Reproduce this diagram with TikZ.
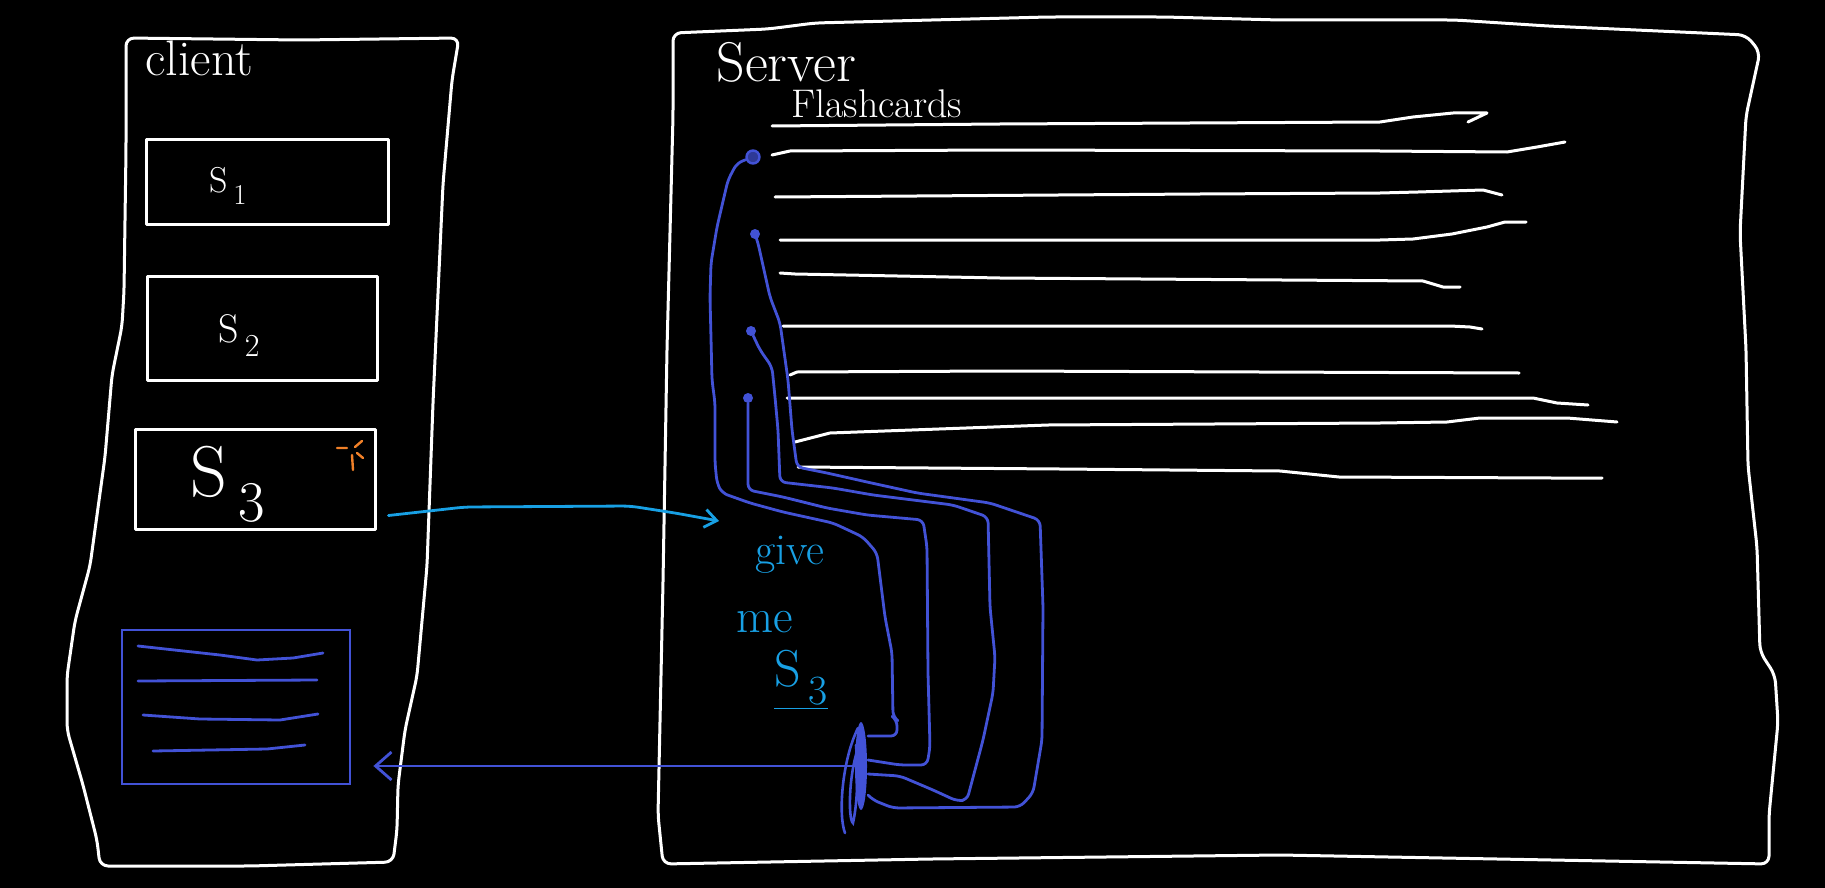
\documentclass[tikz,border=0pt]{standalone}
\usepackage{graphicx}
\usepackage{tikz}
\usetikzlibrary{arrows.meta,shapes.geometric,positioning}
\definecolor{penblue}{RGB}{66,82,214}
\definecolor{pencyan}{RGB}{24,160,228}
\definecolor{penorange}{RGB}{240,128,40}
\newcommand{\slotname}[1]{S\kern0.15em\raisebox{-0.35em}{\scalebox{0.8}{#1}}}

\begin{document}
\begin{tikzpicture}[x=0.5pt,y=-0.5pt,
  chalk/.style={draw=white, line width=1.5pt, line cap=round, line join=round},
  slot/.style={chalk, rectangle, inner sep=0pt},
  wire/.style={draw=penblue, line width=1.4pt, line cap=round, line join=round, rounded corners=3pt},
  dot/.style={circle, fill=penblue, inner sep=0pt, minimum size=5pt},
  scrawl/.style={text=white, inner sep=0pt},
  ask/.style={draw=pencyan, line width=1.4pt, line cap=round, rounded corners=4pt,
    -{Straight Barb[length=6pt,width=9pt,line width=1.4pt]}},
  fetch/.style={draw=penblue, line width=1.4pt, line cap=round,
    -{Straight Barb[length=8pt,width=14pt,line width=1.4pt]}}]

  \useasboundingbox (0,0) rectangle (1825,888);
  \fill[black] (0,0) rectangle (1825,888);

  % client
  \draw[chalk, rounded corners=4pt] (126,38) -- (126,150) -- (124,291) -- (122,326) -- (112,375)
    -- (105,457) -- (90,566) -- (75,621) -- (67,676) -- (67,730) -- (83,785) -- (97,840)
    -- (100,866) -- (250,866) -- (393,862) -- (397,830) -- (398,785) -- (405,730) -- (417,676)
    -- (427,566) -- (433,403) -- (443,184) -- (452,80) -- (459,38) -- (300,40) -- cycle;
  \node[scrawl, anchor=west, font=\fontsize{25}{27}\selectfont] (client) at (145,58) {client};

  \node[slot, minimum width=121pt, minimum height=42.5pt] (s1) at (267,182) {};
  \node[slot, minimum width=115pt, minimum height=52pt] (s2) at (262,328) {};
  \node[slot, minimum width=120pt, minimum height=50pt] (s3) at (255,479) {};
  \node[scrawl, font=\fontsize{18}{20}\selectfont] (l1) at (228,186) {\slotname{1}};
  \node[scrawl, font=\fontsize{20}{22}\selectfont] (l2) at (239,336) {\slotname{2}};
  \node[scrawl, font=\fontsize{36}{38}\selectfont] (l3) at (228,484) {\slotname{3}};
  % new mark
  \draw[penorange, line width=1.2pt, line cap=round]
    (337,448) -- (347,448) (352,455) -- (353,470) (355,447) -- (362,441) (357,453) -- (363,458);

  % fetched cards
  \node[draw=penblue, line width=1.4pt, rectangle, minimum width=114pt, minimum height=77pt,
    inner sep=0pt] (cards) at (236,707) {};
  \draw[penblue, line width=1.4pt, line cap=round]
    (138,646) -- (220,655) -- (257,660) -- (293,658) -- (323,653)
    (138,681) -- (317,680)
    (143,715) -- (200,719) -- (280,720) -- (318,714)
    (153,751) -- (267,749) -- (305,745);

  % server
  \draw[chalk, rounded corners=4pt] (673,33) -- (768,29) -- (815,23) -- (1048,17) -- (1164,17)
    -- (1280,20) -- (1455,20) -- (1548,26) -- (1746,35) -- (1760,52) -- (1746,116)
    -- (1740,233) -- (1746,349) -- (1748,466) -- (1757,547) -- (1760,652) -- (1775,675)
    -- (1778,722) -- (1769,815) -- (1769,864) -- (1280,855) -- (931,859) -- (663,864)
    -- (658,815) -- (663,582) -- (667,349) -- (673,116) -- cycle;
  \node[scrawl, anchor=west, font=\fontsize{28}{30}\selectfont] (server) at (716,62) {Server};
  \node[scrawl, anchor=west, font=\fontsize{20}{22}\selectfont] (deck) at (791,104) {Flashcards};

  % flashcards
  \draw[chalk] (772,126) -- (1000,124) -- (1380,122) -- (1413,117) -- (1453,113) -- (1487,113) -- (1468,122);
  \draw[chalk] (772,155) -- (790,151) -- (1000,150) -- (1380,151) -- (1507,152) -- (1537,147) -- (1565,142);
  \draw[chalk] (775,197) -- (1200,194) -- (1380,193) -- (1418,192) -- (1483,190) -- (1502,195);
  \draw[chalk] (780,240) -- (1380,240) -- (1413,239) -- (1452,234) -- (1487,227) -- (1505,222) -- (1526,222);
  \draw[chalk] (780,273) -- (795,274) -- (1000,278) -- (1423,281) -- (1443,287) -- (1460,287);
  \draw[chalk] (783,326) -- (1450,326) -- (1470,327) -- (1482,329);
  \draw[chalk] (790,375) -- (797,372) -- (1000,371) -- (1260,372) -- (1519,373);
  \draw[chalk] (787,398) -- (1380,398) -- (1533,398) -- (1557,403) -- (1588,405);
  \draw[chalk] (795,442) -- (830,433) -- (1048,425) -- (1380,423) -- (1447,422) -- (1480,418) -- (1567,418) -- (1617,422);
  \draw[chalk] (798,467) -- (1060,469) -- (1280,471) -- (1339,477) -- (1552,478) -- (1602,478);

  % picked cards
  \node[dot, draw=penblue, line width=1.2pt, fill=penblue!70!black, minimum size=6.5pt] (d1) at (753,157) {};
  \node[dot] (d2) at (755,234) {};
  \node[dot] (d3) at (751,331) {};
  \node[dot] (d4) at (748,398) {};

  % stack
  \node[ellipse, fill=penblue, inner sep=0pt, minimum width=6pt, minimum height=44pt] (stack) at (861,766) {};
  \draw[penblue, line width=1.3pt, line cap=round]
    (858,728) .. controls (842,760) and (838,815) .. (845,833)
    (861,740) .. controls (848,770) and (848,820) .. (853,823) .. controls (858,800) and (858,770) .. (856,745);
  \coordinate (t1) at (868,736);
  \coordinate (t2) at (868,760);
  \coordinate (t3) at (868,774);
  \coordinate (t4) at (868,795);

  \draw[wire] (d1) -- (737,163) -- (728,180) -- (717,227) -- (711,263) -- (710,297) -- (712,380)
    -- (715,403) -- (715,463) -- (717,483) -- (722,493) -- (750,503) -- (783,512) -- (833,523)
    -- (863,537) -- (877,553) -- (885,617) -- (892,653) -- (893,717) -- (897,720) -- (897,736) -- (t1);
  \draw[wire] (d4) -- (748,490) -- (783,497) -- (827,508) -- (867,515) -- (923,520) -- (927,547)
    -- (928,673) -- (930,747) -- (927,765) -- (900,765) -- (t2);
  \draw[wire] (d3) -- (760,350) -- (772,367) -- (775,397) -- (778,430) -- (780,482) -- (833,488)
    -- (873,495) -- (953,505) -- (988,517) -- (990,607) -- (995,657) -- (993,693) -- (983,740)
    -- (967,800) -- (957,801) -- (933,790) -- (900,776) -- (t3);
  \draw[wire] (d2) -- (758,243) -- (770,297) -- (780,323) -- (788,380) -- (792,430) -- (797,467)
    -- (827,473) -- (867,482) -- (917,493) -- (990,503) -- (1040,520) -- (1043,607) -- (1042,740)
    -- (1033,793) -- (1020,807) -- (893,808) -- (873,800) -- (t4);

  % request and answer
  \coordinate (req) at (719,521);
  \draw[ask] ([xshift=6pt,yshift=7.5pt]s3.south east) -- (465,507) -- (630,506) -- (675,513) -- (req);
  \node[text=pencyan, font=\fontsize{22}{24}\selectfont] (give) at (790,555) {give};
  \node[text=pencyan, font=\fontsize{24}{26}\selectfont] (me) at (765,622) {me};
  \node[text=pencyan, font=\fontsize{26}{28}\selectfont] (want) at (801,680) {\underline{\slotname{3}}};
  \draw[fetch] (stack.west) -- ([xshift=11pt]cards.east |- stack.west);
\end{tikzpicture}
\end{document}
